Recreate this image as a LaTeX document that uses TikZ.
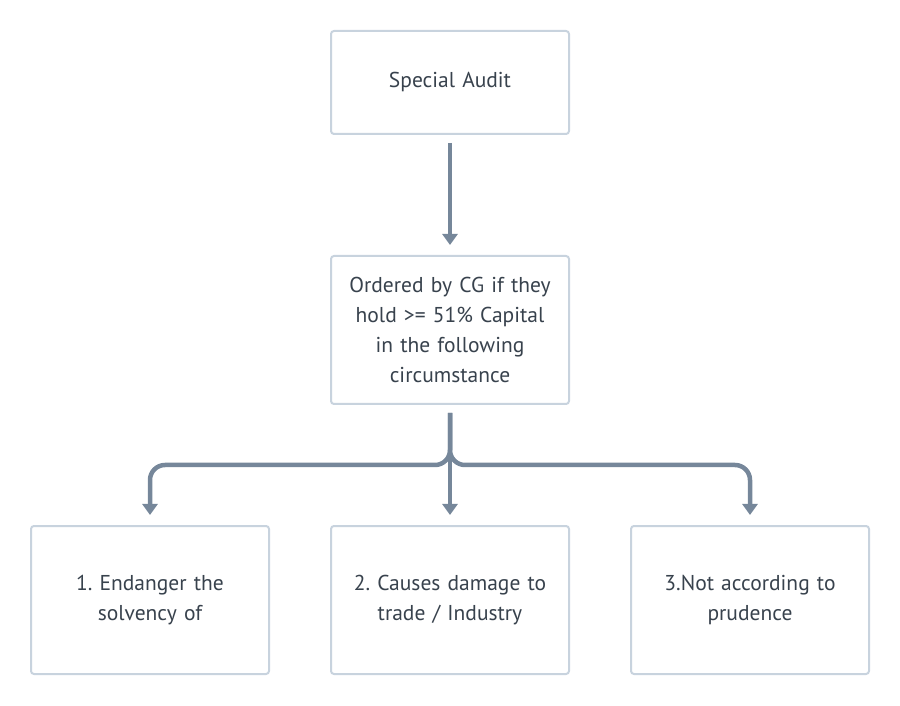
\documentclass[tikz,border=0pt]{standalone}
\usepackage{fontspec}
\setmainfont{PT Sans}
\frenchspacing
\usetikzlibrary{arrows.meta,positioning}
\definecolor{boxline}{HTML}{C8D3DE}
\definecolor{textgray}{HTML}{38424D}
\definecolor{arrowgray}{HTML}{76879A}

\begin{document}
\begin{tikzpicture}[x=1pt,y=1pt,
  box/.style = {draw=boxline, line width=2pt, rounded corners=3pt, fill=white,
    minimum width=238pt, text width=220pt, align=center,
    text=textgray, font=\fontsize{21.5}{30}\selectfont},
  conn/.style = {draw=arrowgray, line width=4.5pt, rounded corners=15pt,
    -{Triangle[width=15pt,length=11pt]}}]
  % page size
  \useasboundingbox (0,0) rectangle (900,705);
  % define the boxes
  \node[box, minimum height=103pt] (audit) at (450,622.5) {Special Audit};
  \node[box, minimum height=148pt] (ordered) at (450,375)
    {Ordered by CG if they\\hold >= 51\% Capital\\in the following\\circumstance};
  \node[box, minimum height=148pt] (damage) at (450,105)
    {2. Causes damage to\\trade / Industry};
  \node[box, minimum height=148pt, left=60pt of damage] (endanger)
    {1. Endanger the\\solvency of};
  \node[box, minimum height=148pt, right=60pt of damage] (prudence)
    {3.Not according to\\prudence};
  % split point below the middle box
  \coordinate (split) at ([yshift=-60pt]ordered.south);
  % draw the arrows
  \draw[conn] ([yshift=-8pt]audit.south) -- ([yshift=10pt]ordered.north);
  \draw[conn] ([yshift=-8pt]ordered.south) -- ([yshift=10pt]damage.north);
  \draw[conn] ([yshift=-8pt]ordered.south) -- (split)
    -| ([yshift=10pt]endanger.north);
  \draw[conn] ([yshift=-8pt]ordered.south) -- (split)
    -| ([yshift=10pt]prudence.north);
\end{tikzpicture}
\end{document}
